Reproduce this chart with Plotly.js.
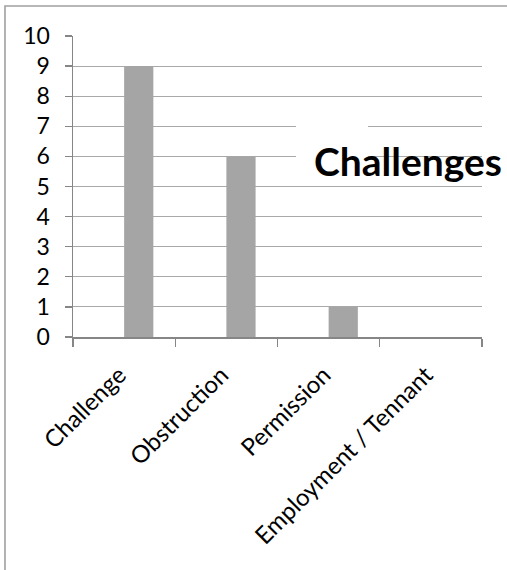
<!DOCTYPE html>
<html>
<head>
<meta charset="utf-8">
<script src="https://cdn.plot.ly/plotly-3.0.1.min.js"></script>
<style>
  html, body { margin: 0; padding: 0; background: #ffffff; }
  #chart { width: 507px; height: 570px; }
</style>
</head>
<body>
<div id="chart"></div>
<script>
const categories = ["Challenge", "Obstruction", "Permission", "Employment / Tennant"];
const counts = [9, 6, 1, 0];
const yTicks = [0, 1, 2, 3, 4, 5, 6, 7, 8, 9, 10];
const chartTitle = "Challenges";

const W = 507, H = 570;
const M = { l: 73, r: 25, t: 36, b: 233 };
const pw = W - M.l - M.r, ph = H - M.t - M.b;
const px = x => (x - M.l) / pw;          // pixel -> paper x
const py = y => (H - M.b - y) / ph;      // pixel -> paper y

const FONT = "Lato, 'Open Sans', sans-serif";
const AXIS = "#868686";
const GRID = "#a9a9a9";

const trace = {
  type: "bar",
  x: categories,
  y: counts,
  offset: 0,
  width: 1 / 3.5,
  marker: { color: "#a5a5a5", line: { width: 0 } },
  hoverinfo: "x+y"
};

const layout = {
  width: W, height: H,
  margin: M,
  paper_bgcolor: "#ffffff",
  plot_bgcolor: "#ffffff",
  showlegend: false,
  font: { family: FONT, size: 23, color: "#000000" },
  xaxis: {
    type: "category",
    tickangle: -45,
    ticks: "outside",
    tickson: "boundaries",
    ticklen: 8,
    tickwidth: 1.3,
    tickcolor: AXIS,
    showline: true,
    linecolor: AXIS,
    linewidth: 1.5,
    showgrid: false,
    zeroline: false,
    ticklabelstandoff: 13,
    ticklabelshift: -5,
    tickfont: { family: FONT, size: 24, color: "#000" },
    fixedrange: true
  },
  yaxis: {
    range: [0, 10],
    tickvals: yTicks,
    ticktext: yTicks.map(String),
    ticks: "outside",
    ticklen: 7,
    tickwidth: 1.3,
    tickcolor: AXIS,
    showline: true,
    linecolor: AXIS,
    linewidth: 1.5,
    showgrid: true,
    gridcolor: GRID,
    gridwidth: 1,
    zeroline: false,
    ticklabelstandoff: 10,
    tickfont: { family: FONT, size: 23, color: "#000" },
    fixedrange: true
  },
  shapes: [
    // outer chart border (left & top edges visible)
    { type: "path", xref: "paper", yref: "paper", layer: "above",
      path: `M ${px(5)} ${py(H + 5)} L ${px(5)} ${py(6)} L ${px(W + 5)} ${py(6)}`,
      line: { color: "#a0a0a0", width: 1.6 } },
    // white backing box of the title frame
    { type: "rect", xref: "paper", yref: "paper", layer: "above",
      x0: px(296), x1: px(368), y0: py(176), y1: py(112),
      fillcolor: "#ffffff", line: { width: 0 } }
  ],
  annotations: [
    { xref: "paper", yref: "paper", x: px(312), y: py(161),
      xanchor: "left", yanchor: "middle", showarrow: false,
      text: "<b>" + chartTitle + "</b>",
      font: { family: FONT, size: 39, color: "#000" } }
  ]
};

Plotly.newPlot("chart", [trace], layout, { staticPlot: true, displayModeBar: false });
</script>
</body>
</html>
